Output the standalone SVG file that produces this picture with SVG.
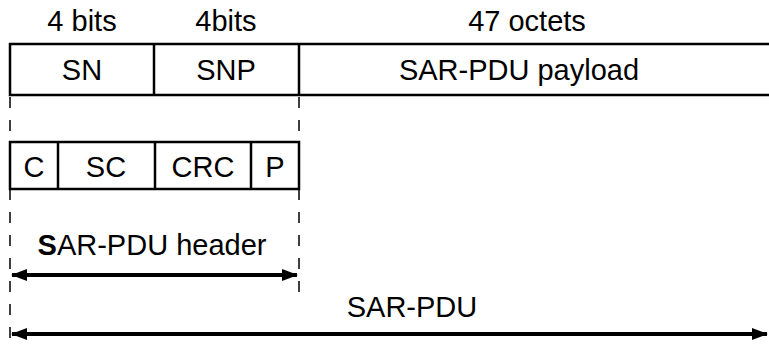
<svg xmlns="http://www.w3.org/2000/svg" width="769" height="345" viewBox="0 0 769 345">
<defs>
<style>
text{font-family:"Liberation Sans",Arial,sans-serif;font-size:29px;fill:#000;text-anchor:middle}
.box{fill:none;stroke:#000;stroke-width:2.5}
.div{stroke:#000;stroke-width:2.5}
.dash{stroke:#000;stroke-width:1.5;stroke-dasharray:11 12;fill:none}
.arr{stroke:#000;stroke-width:4;fill:none;marker-start:url(#ah);marker-end:url(#ah)}
</style>
<marker id="ah" viewBox="0 0 16 12" refX="15" refY="6" markerWidth="16" markerHeight="12" markerUnits="userSpaceOnUse" orient="auto-start-reverse">
<path d="M0,0 L16,6 L0,12 Z" fill="#000"/>
</marker>
</defs>
<rect width="769" height="345" fill="#fff"/>
<g id="labels-top">
<text x="82" y="31">4 bits</text>
<text x="226" y="31">4bits</text>
<text x="527" y="31">47 octets</text>
</g>
<g id="sar-pdu-row">
<path class="box" d="M769,44 H10 V95 H769"/>
<line class="div" x1="154" y1="44" x2="154" y2="95"/>
<line class="div" x1="299" y1="44" x2="299" y2="95"/>
<text x="82" y="80">SN</text>
<text x="226" y="80">SNP</text>
<text x="519" y="80">SAR-PDU payload</text>
</g>
<g id="header-row">
<rect class="box" x="10" y="142" width="289" height="47"/>
<line class="div" x1="58" y1="142" x2="58" y2="189"/>
<line class="div" x1="155" y1="142" x2="155" y2="189"/>
<line class="div" x1="251" y1="142" x2="251" y2="189"/>
<text x="34" y="177">C</text>
<text x="106" y="177">SC</text>
<text x="203" y="177">CRC</text>
<text x="275" y="177">P</text>
</g>
<g id="connectors">
<line class="dash" x1="10" y1="97" x2="10" y2="345"/>
<line class="dash" x1="299" y1="97" x2="299" y2="300"/>
<line class="arr" x1="12" y1="275" x2="297" y2="275"/>
<line class="arr" x1="12" y1="334" x2="767" y2="334"/>
</g>
<g id="dimension-labels">
<text x="152" y="255"><tspan font-weight="bold">S</tspan>AR-PDU header</text>
<text x="412" y="317">SAR-PDU</text>
</g>
</svg>
